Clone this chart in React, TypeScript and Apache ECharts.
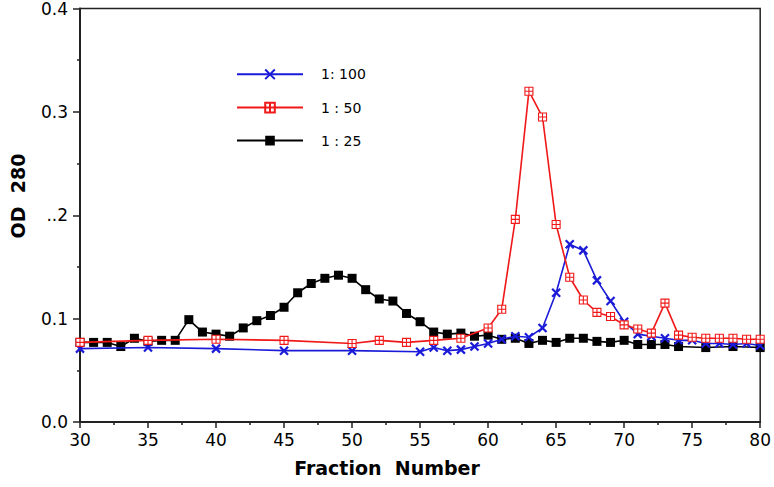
import React, { useEffect, useRef } from "react";
import * as echarts from "echarts";

const yTickLabels = ["0.0", "0.1", "..2", "0.3", "0.4"];

const blueName = "1: 100";
const blueX = [30, 35, 40, 45, 50, 55, 56, 57, 58, 59, 60, 61, 62, 63, 64, 65, 66, 67, 68, 69, 70, 71, 72, 73, 74, 75, 76, 77, 78, 79, 80];
const blueY = [0.071, 0.072, 0.071, 0.069, 0.069, 0.068, 0.072, 0.069, 0.070, 0.073, 0.076, 0.080, 0.083, 0.082, 0.091, 0.125, 0.172, 0.166, 0.137, 0.117, 0.097, 0.085, 0.083, 0.081, 0.079, 0.079, 0.076, 0.076, 0.075, 0.076, 0.074];

const redName = "1 : 50";
const redX = [30, 35, 40, 45, 50, 52, 54, 56, 58, 60, 61, 62, 63, 64, 65, 66, 67, 68, 69, 70, 71, 72, 73, 74, 75, 76, 77, 78, 79, 80];
const redY = [0.077, 0.079, 0.080, 0.079, 0.076, 0.079, 0.077, 0.079, 0.081, 0.091, 0.109, 0.196, 0.320, 0.295, 0.191, 0.140, 0.118, 0.106, 0.102, 0.094, 0.090, 0.086, 0.115, 0.084, 0.082, 0.081, 0.081, 0.081, 0.080, 0.080];

const blackName = "1 : 25";
const blackX = [30, 31, 32, 33, 34, 35, 36, 37, 38, 39, 40, 41, 42, 43, 44, 45, 46, 47, 48, 49, 50, 51, 52, 53, 54, 55, 56, 57, 58, 59, 60, 61, 62, 63, 64, 65, 66, 67, 68, 69, 70, 71, 72, 73, 74, 76, 78, 80];
const blackY = [0.077, 0.077, 0.077, 0.073, 0.081, 0.078, 0.079, 0.079, 0.099, 0.087, 0.085, 0.083, 0.091, 0.098, 0.103, 0.111, 0.125, 0.134, 0.139, 0.142, 0.139, 0.128, 0.119, 0.117, 0.105, 0.097, 0.087, 0.085, 0.086, 0.083, 0.084, 0.080, 0.081, 0.076, 0.079, 0.077, 0.081, 0.081, 0.078, 0.077, 0.079, 0.075, 0.075, 0.075, 0.073, 0.072, 0.073, 0.072];

const pairs = (xs: number[], ys: number[]) => xs.map((x, i) => [x, ys[i]]);

const FONT = "DejaVu Sans";

export default function App() {
  const ref = useRef<HTMLDivElement>(null);
  useEffect(() => {
    if (!ref.current) return;
    const chart = echarts.init(ref.current, null, { renderer: "svg" });
    const blue = "#1a1ad8";
    const red = "#f01818";
    chart.setOption({
      animation: false,
      backgroundColor: "#ffffff",
      grid: {
        left: 80,
        right: 9,
        top: 7,
        bottom: 65,
        show: true,
        borderColor: "#222",
        borderWidth: 1.5,
      },
      legend: {
        orient: "vertical",
        left: 236,
        top: 67,
        itemWidth: 66,
        itemHeight: 12,
        itemGap: 19,
        padding: 0,
        textStyle: { fontFamily: FONT, fontSize: 14, color: "#000", padding: [0, 0, 0, 13] },
        data: [blueName, redName, blackName],
      },
      xAxis: {
        type: "value",
        min: 30,
        max: 80,
        interval: 5,
        splitLine: { show: false },
        axisLine: { show: true, lineStyle: { color: "#222", width: 2 } },
        axisTick: { show: true, length: 6, lineStyle: { color: "#222", width: 1.5 } },
        minorTick: { show: true, splitNumber: 2, length: 3, lineStyle: { color: "#222", width: 1.5 } },
        axisLabel: { fontFamily: FONT, fontSize: 17, color: "#000", margin: 9 },
      },
      yAxis: {
        type: "value",
        min: 0,
        max: 0.4,
        interval: 0.1,
        splitLine: { show: false },
        axisLine: { show: true, lineStyle: { color: "#222", width: 2 } },
        axisTick: { show: true, length: 7, lineStyle: { color: "#222", width: 1.5 } },
        minorTick: { show: true, splitNumber: 2, length: 3, lineStyle: { color: "#222", width: 1.5 } },
        axisLabel: {
          fontFamily: FONT,
          fontSize: 17,
          color: "#000",
          margin: 12,
          formatter: (v: number) => yTickLabels[Math.round(v * 10)] ?? "",
        },
      },
      graphic: [
        {
          type: "text",
          left: "center",
          top: 458,
          x: 0,
          style: { text: "Fraction  Number", font: `bold 19px "${FONT}"`, fill: "#000" },
        },
        {
          type: "text",
          x: 8,
          y: 196,
          rotation: Math.PI / 2,
          style: {
            text: "OD  280",
            font: `bold 19px "${FONT}"`,
            fill: "#000",
            align: "center",
            verticalAlign: "top",
          },
        },
      ],
      series: [
        {
          name: blueName,
          type: "line",
          data: pairs(blueX, blueY),
          symbol: "path://M0 0 L10 10 M10 0 L0 10",
          symbolSize: 8,
          lineStyle: { color: blue, width: 1.6 },
          itemStyle: { color: "none", borderColor: blue, borderWidth: 2.2 },
          z: 3,
        },
        {
          name: redName,
          type: "line",
          data: pairs(redX, redY),
          symbol: "path://M0 0 H10 V10 H0 Z M5 0 V10 M0 5 H10",
          symbolSize: 8,
          lineStyle: { color: red, width: 1.6 },
          itemStyle: { color: "#ffffff", borderColor: red, borderWidth: 1.1 },
          z: 4,
        },
        {
          name: blackName,
          type: "line",
          data: pairs(blackX, blackY),
          symbol: "rect",
          symbolSize: 9,
          lineStyle: { color: "#000", width: 1.6 },
          itemStyle: { color: "#000" },
          z: 2,
        },
      ],
    });
    return () => chart.dispose();
  }, []);
  return <div ref={ref} style={{ width: 774, height: 487, position: "absolute", left: 0, top: 0 }} />;
}
